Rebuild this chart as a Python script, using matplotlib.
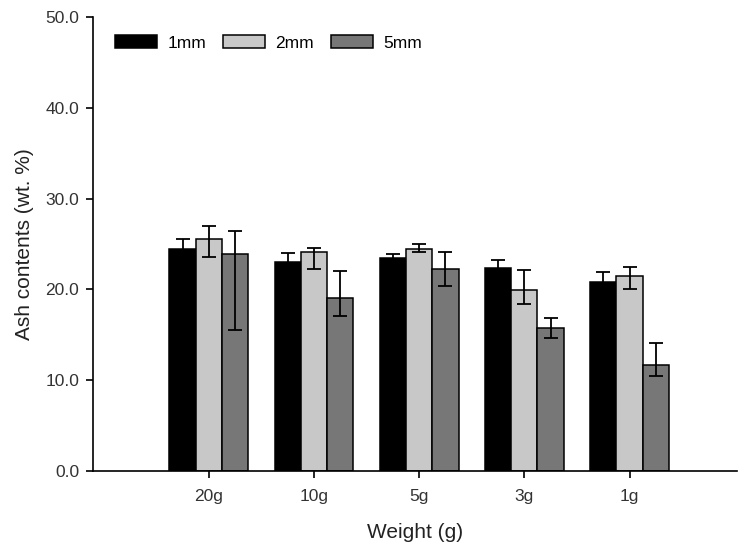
import numpy as np
import matplotlib
matplotlib.use("Agg")
import matplotlib.pyplot as plt

plt.rcParams['font.family'] = ['Liberation Sans', 'DejaVu Sans']

categories = ['20g', '10g', '5g', '3g', '1g']
series = ['1mm', '2mm', '5mm']

# bar heights (wt. %)
ash_1mm = [24.5, 23.05, 23.5, 22.4, 20.8]
ash_2mm = [25.5, 24.1, 24.5, 19.9, 21.5]
ash_5mm = [23.9, 19.0, 22.3, 15.8, 11.7]

# error bar ends (low, high)
low_1mm = [23.4, 22.1, 23.1, 21.6, 19.65]
high_1mm = [25.6, 24.0, 23.9, 23.2, 21.95]
low_2mm = [23.6, 22.3, 24.1, 18.4, 20.0]
high_2mm = [27.0, 24.6, 25.0, 22.1, 22.5]
low_5mm = [15.5, 17.1, 20.4, 14.7, 10.5]
high_5mm = [26.4, 22.0, 24.1, 16.8, 14.1]

colors = ['#000000', '#c8c8c8', '#777777']

fig = plt.figure(figsize=(7.45, 5.54), dpi=100)
ax = fig.add_axes([0.125, 0.15, 0.864, 0.819])

x = np.arange(len(categories))
width = 0.25
data = [(ash_1mm, low_1mm, high_1mm), (ash_2mm, low_2mm, high_2mm), (ash_5mm, low_5mm, high_5mm)]

for i, (vals, lo, hi) in enumerate(data):
    pos = x + (i - 1) * width
    vals = np.array(vals)
    ax.bar(pos, vals, width, color=colors[i], edgecolor='black', linewidth=1.1,
           label=series[i], zorder=2)
    yerr = [vals - np.array(lo), np.array(hi) - vals]
    ax.errorbar(pos, vals, yerr=yerr, fmt='none', ecolor='black', elinewidth=1.3,
                capsize=5, capthick=1.3, zorder=3)

ax.set_xlim(-1.1, 5.02)
ax.set_ylim(0, 50)
ax.set_yticks(np.arange(0, 51, 10))
ax.set_yticklabels(['%.1f' % v for v in np.arange(0, 51, 10)])
ax.set_xticks(x)
ax.set_xticklabels(categories)

ax.spines['top'].set_visible(False)
ax.spines['right'].set_visible(False)
for s in ['left', 'bottom']:
    ax.spines[s].set_linewidth(1.2)
ax.tick_params(direction='out', length=5, width=1.2, labelsize=12.5, colors='black',
               labelcolor='#333333', pad=5)
ax.tick_params(axis='x', pad=8)

ax.set_xlabel('Weight (g)', fontsize=15, color='#222222', labelpad=14)
ax.set_ylabel('Ash contents (wt. %)', fontsize=15, color='#222222', labelpad=8)

ax.legend(loc='upper left', ncol=3, frameon=False, fontsize=12.5,
          handlelength=2.4, handleheight=0.8, handletextpad=0.6,
          columnspacing=1.0, bbox_to_anchor=(0.01, 0.995))

fig.savefig('out.png', dpi=100)
